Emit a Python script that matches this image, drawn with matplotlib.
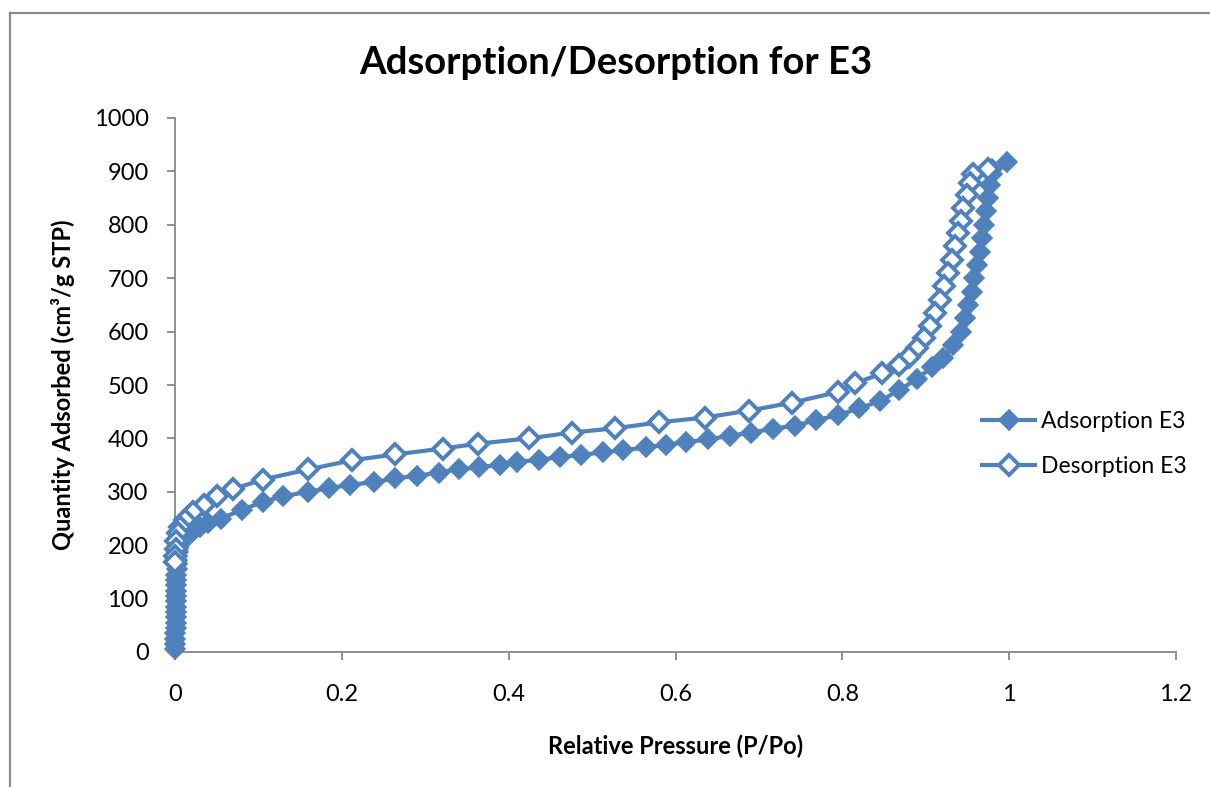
import numpy as np
import matplotlib.pyplot as plt
from matplotlib.lines import Line2D

# Isotherm data
ads_p = [0.0002, 0.0003, 0.0004, 0.0005, 0.0006, 0.0007, 0.0008, 0.0009, 0.001, 0.0011,
         0.0012, 0.0013, 0.0014, 0.0015, 0.0017, 0.0019, 0.0021, 0.0024, 0.0028, 0.0033,
         0.004, 0.005, 0.007, 0.01, 0.015, 0.022, 0.03, 0.04, 0.055, 0.08,
         0.105, 0.13, 0.16, 0.185, 0.21, 0.238, 0.264, 0.29, 0.316, 0.34,
         0.365, 0.39, 0.41, 0.436, 0.462, 0.487, 0.513, 0.537, 0.565, 0.589,
         0.613, 0.639, 0.665, 0.691, 0.717, 0.743, 0.769, 0.795, 0.82, 0.845,
         0.868, 0.89, 0.908, 0.921, 0.933, 0.942, 0.947, 0.951, 0.955, 0.958,
         0.962, 0.965, 0.967, 0.97, 0.972, 0.975, 0.977, 0.979, 0.98, 0.997]
ads_q = [5, 15, 25, 35, 45, 55, 65, 75, 85, 95,
         105, 115, 125, 135, 145, 155, 164, 172, 180, 188,
         195, 201, 206, 211, 218, 226, 234, 241, 250, 266,
         281, 292, 300, 307, 313, 318, 325, 330, 336, 342,
         346, 351, 356, 360, 365, 369, 374, 378, 383, 388,
         393, 398, 405, 411, 418, 424, 434, 444, 456, 470,
         490, 512, 534, 550, 575, 600, 625, 650, 675, 700,
         725, 750, 775, 800, 825, 850, 875, 895, 905, 917]

des_p = [0.975, 0.957, 0.953, 0.949, 0.945, 0.942, 0.939, 0.935, 0.931, 0.927,
         0.922, 0.917, 0.911, 0.905, 0.898, 0.89, 0.88, 0.868, 0.848, 0.815,
         0.795, 0.74, 0.688, 0.635, 0.58, 0.528, 0.476, 0.424, 0.363, 0.321,
         0.264, 0.212, 0.16, 0.105, 0.07, 0.05, 0.035, 0.022, 0.012, 0.006,
         0.003, 0.0015, 0.0008, 0.0005, 0.0003]
des_q = [905, 895, 878, 855, 832, 808, 784, 760, 735, 710,
         685, 660, 635, 610, 588, 570, 553, 538, 522, 503,
         487, 467, 452, 439, 430, 419, 411, 400, 390, 381,
         370, 359, 342, 323, 305, 293, 276, 262, 248, 235,
         222, 208, 192, 180, 168]

x_ticks = [0, 0.2, 0.4, 0.6, 0.8, 1, 1.2]
x_tick_labels = ['0', '0.2', '0.4', '0.6', '0.8', '1', '1.2']
y_ticks = np.arange(0, 1001, 100)

blue = '#4F81BD'
grey = '#868686'
plt.rcParams['font.family'] = ['Lato', 'DejaVu Sans']

fig = plt.figure(figsize=(12.1, 7.87), dpi=100)
ax = fig.add_axes([175/1210, 1 - 652/787, 1001/1210, 534/787])

# outer chart frame: only the top and left edges show in the picture
fx, fy = 10/1210, 1 - 13/787
fig.add_artist(Line2D([fx, 1.01], [fy, fy], transform=fig.transFigure, color='#8c8c8c', lw=1.6))
fig.add_artist(Line2D([fx, fx], [-0.01, fy], transform=fig.transFigure, color='#8c8c8c', lw=1.6))

ax.plot(ads_p, ads_q, color=blue, lw=3, marker='D', ms=10,
        mfc=blue, mec=blue, mew=1.2, label='Adsorption E3', clip_on=False, zorder=3)
ax.plot(des_p, des_q, color=blue, lw=3, marker='D', ms=10,
        mfc='white', mec=blue, mew=2.8, label='Desorption E3', clip_on=False, zorder=4)

ax.set_xlim(0, 1.2)
ax.set_ylim(0, 1000)
ax.set_xticks(x_ticks)
ax.set_xticklabels(x_tick_labels)
ax.set_yticks(y_ticks)

for s in ['top', 'right']:
    ax.spines[s].set_visible(False)
for s in ['left', 'bottom']:
    ax.spines[s].set_color(grey)
    ax.spines[s].set_linewidth(1.3)
ax.tick_params(axis='both', direction='out', length=6, width=1.3, color=grey,
               labelsize=17, labelcolor='black')
ax.tick_params(axis='x', pad=17)
ax.tick_params(axis='y', pad=13)

fig.text(616/1210, 1 - 63/787, 'Adsorption/Desorption for E3', fontsize=27.5,
         fontweight='bold', ha='center', va='center')
ax.set_xlabel('Relative Pressure (P/Po)', fontsize=17, fontweight='bold')
ax.set_ylabel('Quantity Adsorbed (cm³/g STP)', fontsize=17, fontweight='bold')
ax.xaxis.set_label_coords(0.5, -0.155)
ax.yaxis.set_label_coords(-0.1, 0.5)

ax.legend(loc='center left', bbox_to_anchor=(0.786, 0.39), frameon=False,
          fontsize=16.5, handlelength=2.3, labelspacing=1.05, handletextpad=0.25)

fig.savefig('out.png', dpi=100)
